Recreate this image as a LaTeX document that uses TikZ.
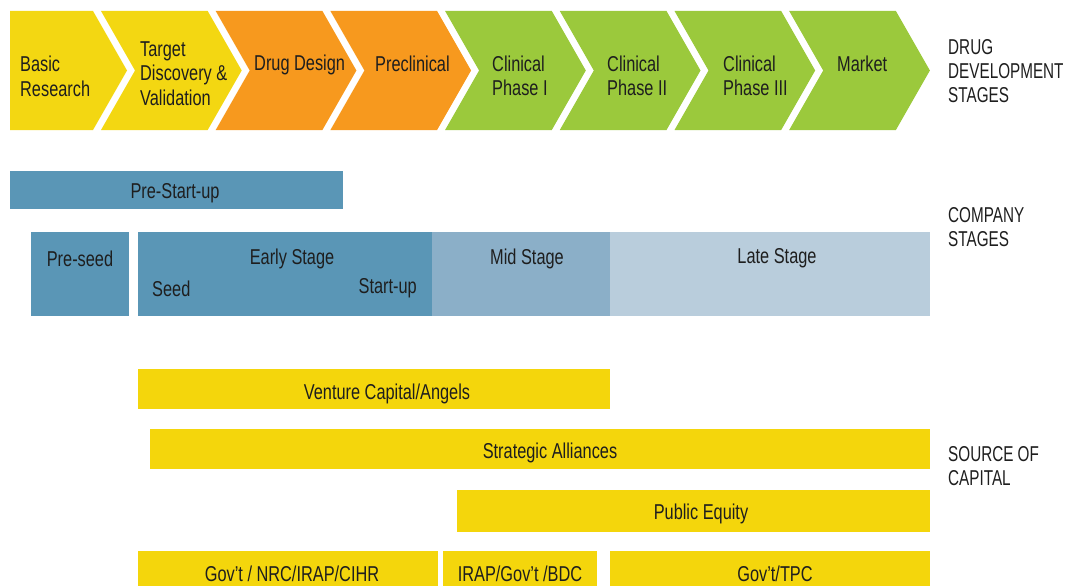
\documentclass[tikz,border=0pt]{standalone}
\usepackage{fontspec}
\setmainfont{Liberation Sans}[FakeStretch=0.76]
\newfontfamily\sidefont{Liberation Sans}[FakeStretch=0.71]
\definecolor{ink}{HTML}{1E1E1E}
\definecolor{chevY}{HTML}{F3D712}
\definecolor{chevO}{HTML}{F7991E}
\definecolor{chevG}{HTML}{9BC93C}
\definecolor{blueA}{HTML}{5A96B6}
\definecolor{blueB}{HTML}{8BAFC8}
\definecolor{blueC}{HTML}{B9CDDC}
\definecolor{capY}{HTML}{F4D60C}
\begin{document}
\begin{tikzpicture}[x=1pt,y=-1pt,
  lbl/.style={inner sep=0pt, text=ink, font=\fontsize{21.5}{24.5}\selectfont, align=left, yshift=-1.5pt},
  clbl/.style={lbl, align=center},
  side/.style={lbl, font=\sidefont\fontsize{21.5}{24}\selectfont, anchor=west}]
\useasboundingbox (0,0) rectangle (1068,586);

% drug development chevrons
\foreach \k/\col in {0/chevY,1/chevY,2/chevO,3/chevO,4/chevG,5/chevG,6/chevG,7/chevG} {
  \pgfmathsetmacro\R{93+114.7*\k}
  \pgfmathsetmacro\L{ifthenelse(\k==0,10,\R-114.7+8)}
  \pgfmathsetmacro\N{ifthenelse(\k==0,10,\L+34)}
  \fill[\col] (\L,11) -- (\R,11) -- (\R+34,70.5) -- (\R,130) -- (\L,130) -- (\N,70.5) -- cycle;
}
\node[lbl, anchor=west] (basic) at (20,75) {Basic\\Research};
\node[lbl, anchor=west] (target) at (140,72) {Target\\Discovery \&\\Validation};
\node[lbl, anchor=west] (design) at (254,63) {Drug Design};
\node[lbl, anchor=west] (precl) at (375,62) {Preclinical};
\node[lbl, anchor=west] (ph1) at (492,74.5) {Clinical\\Phase I};
\node[lbl, anchor=west] (ph2) at (607,74.5) {Clinical\\Phase II};
\node[lbl, anchor=west] (ph3) at (723,74.5) {Clinical\\Phase III};
\node[lbl, anchor=west] (market) at (837,62) {Market};
\node[side] (drugst) at (948,70) {DRUG\\DEVELOPMENT\\STAGES};

% company stages
\fill[blueA] (10,171) rectangle (343,209);
\fill[blueA] (31,232) rectangle (129,316);
\fill[blueA] (138,232) rectangle (432,316);
\fill[blueB] (432,232) rectangle (610,316);
\fill[blueC] (610,232) rectangle (930,316);
\node[clbl] (prestart) at (175,192) {Pre-Start-up};
\node[clbl] (preseed) at (80,257) {Pre-seed};
\node[clbl] (early) at (292,257) {Early Stage};
\node[lbl, anchor=west] (seed) at (152,287) {Seed};
\node[lbl, anchor=east] (startup) at (417,287) {Start-up};
\node[clbl] (mid) at (527,257) {Mid Stage};
\node[clbl] (late) at (777,257) {Late Stage};
\node[side] (compst) at (948,225.5) {COMPANY\\STAGES};

% sources of capital
\fill[capY] (138,369) rectangle (610,409);
\fill[capY] (150,429) rectangle (930,469);
\fill[capY] (457,490) rectangle (930,532);
\fill[capY] (138,551) rectangle (438,586);
\fill[capY] (443,551) rectangle (597,586);
\fill[capY] (610,551) rectangle (930,586);
\node[clbl] (vc) at (387,392) {Venture Capital/Angels};
\node[clbl] (sa) at (550,451) {Strategic Alliances};
\node[clbl] (pe) at (701,512) {Public Equity};
\node[clbl] (nrc) at (292,572) {Gov’t / NRC/IRAP/CIHR};
\node[clbl] (bdc) at (520,572) {IRAP/Gov’t /BDC};
\node[clbl] (tpc) at (775,572) {Gov’t/TPC};
\node[side] (srcst) at (948,464.5) {SOURCE OF\\CAPITAL};
\end{tikzpicture}
\end{document}
